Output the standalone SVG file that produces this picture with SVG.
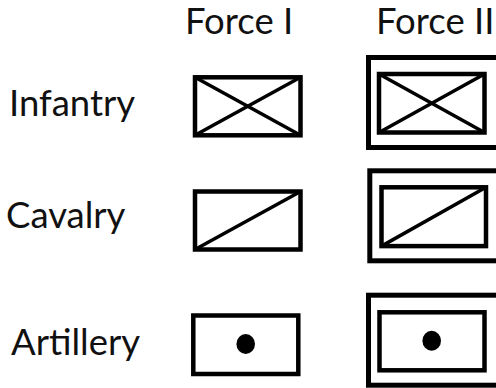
<svg xmlns="http://www.w3.org/2000/svg" width="496" height="388" viewBox="0 0 496 388">
<style>
text{font-family:Lato,"Liberation Sans",sans-serif;font-size:36.5px;fill:#111;}
.b{fill:none;stroke:#000;stroke-width:4.5;}
.o{fill:none;stroke:#000;stroke-width:5;}
.l{stroke:#000;stroke-width:3.5;}
</style>
<rect width="496" height="388" fill="#fff"/>
<g id="headers">
<text x="185" y="34">Force I</text>
<text x="376" y="34">Force II</text>
</g>
<g id="labels">
<text x="9" y="116">Infantry</text>
<text x="6" y="228">Cavalry</text>
<text x="11" y="355">Artillery</text>
</g>
<g id="infantry-1">
<rect class="b" x="195" y="77.3" width="105.5" height="58"/>
<line class="l" x1="195" y1="77.3" x2="300.5" y2="135.3"/>
<line class="l" x1="195" y1="135.3" x2="300.5" y2="77.3"/>
</g>
<g id="infantry-2">
<rect class="o" x="368.5" y="57.5" width="140" height="90"/>
<rect class="b" x="379" y="74" width="105.5" height="58.5"/>
<line class="l" x1="379" y1="74" x2="484.5" y2="132.5"/>
<line class="l" x1="379" y1="132.5" x2="484.5" y2="74"/>
</g>
<g id="cavalry-1">
<rect class="b" x="195" y="191.5" width="105.5" height="58"/>
<line class="l" x1="195" y1="249.5" x2="300.5" y2="191.5"/>
</g>
<g id="cavalry-2">
<rect class="o" x="369.8" y="170.8" width="140" height="90"/>
<rect class="b" x="381.5" y="187.3" width="104.5" height="58.8"/>
<line class="l" x1="381.5" y1="246.1" x2="486" y2="187.3"/>
</g>
<g id="artillery-1">
<rect class="b" x="193.3" y="315.5" width="105" height="58.5"/>
<ellipse cx="245.7" cy="344" rx="9.3" ry="10" fill="#000"/>
</g>
<g id="artillery-2">
<rect class="o" x="368.5" y="295.2" width="140" height="90"/>
<rect class="b" x="379.5" y="312.3" width="105" height="58"/>
<ellipse cx="431.7" cy="340.7" rx="9.3" ry="10" fill="#000"/>
</g>
<g id="connectors"/>
</svg>
